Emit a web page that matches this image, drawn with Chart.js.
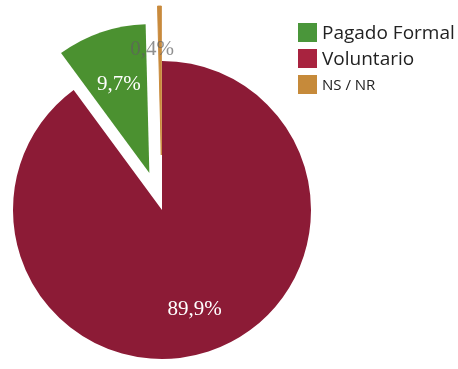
<!DOCTYPE html>
<html>
<head>
<meta charset="utf-8">
<script src="https://cdn.jsdelivr.net/npm/chart.js@4/dist/chart.umd.min.js"></script>
<style>
  body { margin: 0; background: #fff; }
  #wrap { position: relative; width: 458px; height: 369px; }
  #legend { position: absolute; left: 298px; top: 19px; font-family: "Open Sans", sans-serif; color: #222; }
  .item { display: flex; align-items: center; height: 26px; }
  .box { width: 19px; height: 19px; margin-right: 5px; }
</style>
</head>
<body>
<div id="wrap">
  <canvas id="myChart" width="458" height="369"></canvas>
  <div id="legend"></div>
</div>
<script>
var labels = ['Voluntario', 'Pagado Formal', 'NS / NR'];
var values = [89.9, 9.7, 0.4];
var valueText = ['89,9%', '9,7%', '0,4%'];
var colors = ['#8c1b36', '#4b9130', '#c98a3c'];
var legendOrder = [1, 0, 2];
var legendColors = ['#4a963a', '#a8233f', '#c68a3a'];
var explode = [0, 39, 55];   // px pulled out along the slice middle
var labelPos = [0.7, 0.63, 0.68];

// legend as html
var lg = document.getElementById('legend');
legendOrder.forEach(function (i, k) {
    var size = i == 2 ? '15px' : '19px';
    lg.innerHTML += '<div class="item"><div class="box" style="background:' + legendColors[k] + '"></div>' +
        '<span style="font-size:' + size + '">' + labels[i] + '</span></div>';
});

// chart.js 'offset' also shrinks thin slices, so move the arcs ourselves
var explodePlugin = {
    id: 'explode',
    afterDatasetsUpdate: function (chart) {
        var meta = chart.getDatasetMeta(0);
        meta.data.forEach(function (arc, i) {
            var mid = (arc.startAngle + arc.endAngle) / 2;
            arc.x += Math.cos(mid) * explode[i];
            arc.y += Math.sin(mid) * explode[i];
        });
    }
};

var labelPlugin = {
    id: 'sliceLabels',
    afterDatasetsDraw: function (chart) {
        var ctx = chart.ctx;
        var meta = chart.getDatasetMeta(0);
        ctx.save();
        ctx.font = '21px "Liberation Serif", serif';
        ctx.textAlign = 'center';
        ctx.textBaseline = 'middle';
        meta.data.forEach(function (arc, i) {
            var mid = (arc.startAngle + arc.endAngle) / 2;
            var r = arc.outerRadius * labelPos[i];
            var x = arc.x + Math.cos(mid) * r;
            var y = arc.y + Math.sin(mid) * r;
            if (i == 2) { x -= 8; y -= 4; ctx.fillStyle = 'rgba(95,95,95,0.7)'; }
            else ctx.fillStyle = '#fff';
            ctx.fillText(valueText[i], x, y);
        });
        ctx.restore();
    }
};

var ctx = document.getElementById('myChart').getContext('2d');
var myChart = new Chart(ctx, {
    type: 'pie',
    data: {
        labels: labels,
        datasets: [{
            data: values,
            backgroundColor: colors,
            borderColor: colors,
            borderWidth: [0, 0, 1],
            radius: 149,
            clip: false
        }]
    },
    options: {
        responsive: false,
        animation: false,
        events: [],
        layout: { padding: { left: 0, right: 134, top: 51, bottom: 0 } },
        plugins: {
            legend: { display: false },
            tooltip: { enabled: false }
        }
    },
    plugins: [explodePlugin, labelPlugin]
});
</script>
</body>
</html>
